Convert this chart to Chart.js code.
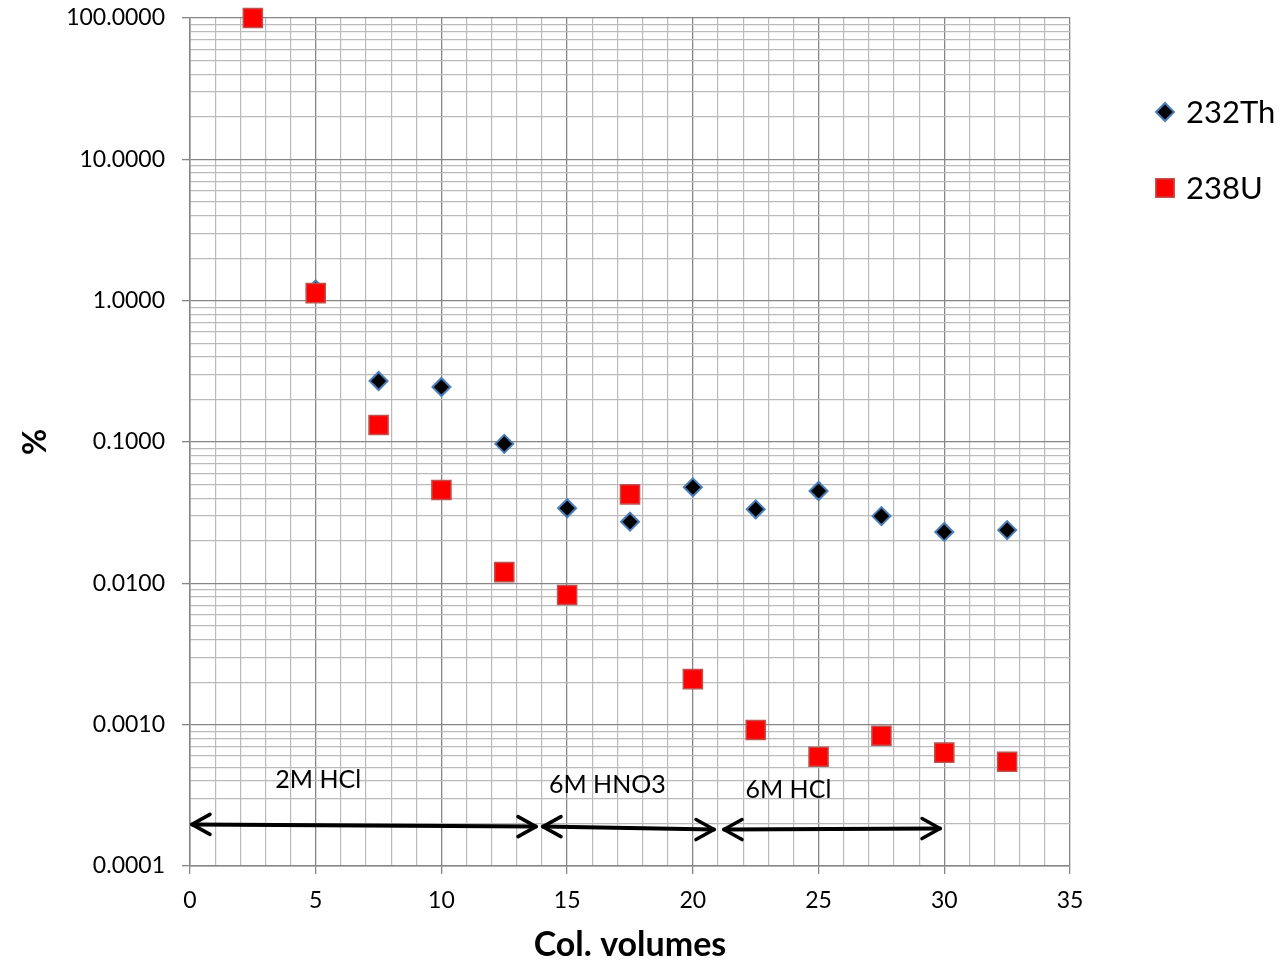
<!DOCTYPE html>
<html>
<head>
<meta charset="utf-8">
<script src="https://cdn.jsdelivr.net/npm/chart.js@4.4.1/dist/chart.umd.min.js"></script>
<style>
    html, body { margin: 0; padding: 0; background: #ffffff; }
    #wrap { width: 1288px; height: 965px; }
</style>
</head>
<body>
<div id="wrap"><canvas id="chart" width="1288" height="965"></canvas></div>
<script>
// Elution profile data
const colVolumes = [2.5, 5, 7.5, 10, 12.5, 15, 17.5, 20, 22.5, 25, 27.5, 30, 32.5];
const th232 = [null, 1.2, 0.27, 0.245, 0.097, 0.034, 0.0273, 0.0478, 0.0334, 0.045, 0.0299, 0.0231, 0.0238];
const u238 = [100, 1.13, 0.132, 0.0457, 0.0120, 0.00826, 0.0426, 0.0021, 0.000916, 0.000593, 0.000835, 0.000634, 0.000547];

// Eluent regions (arrows under the points)
const regionLabels = ['2M HCl', '6M HNO3', '6M HCl'];
const regionStart = [0, 13.96, 21.16];
const regionEnd = [13.84, 20.92, 29.91];
const regionArrowY = [[0.000197, 0.000190], [0.000190, 0.000181], [0.000181, 0.000184]];
const regionLabelX = [5.1, 16.6, 23.8];
const regionLabelY = [0.000406, 0.000374, 0.000345];

const yDecades = [-4, -3, -2, -1, 0, 1, 2];
const FONT = 'Lato, "Open Sans", sans-serif';

const isDecade = v => Math.abs(Math.log10(v) - Math.round(Math.log10(v))) < 1e-9;

const regionPlugin = {
    id: 'regions',
    afterDatasetsDraw(chart) {
        const ctx = chart.ctx;
        const xs = chart.scales.x, ys = chart.scales.y;
        ctx.save();
        ctx.strokeStyle = '#000000';
        ctx.lineCap = 'round';
        ctx.lineJoin = 'round';
        for (let i = 0; i < regionLabels.length; i++) {
            const x1 = xs.getPixelForValue(regionStart[i]);
            const x2 = xs.getPixelForValue(regionEnd[i]);
            const y1 = ys.getPixelForValue(regionArrowY[i][0]);
            const y2 = ys.getPixelForValue(regionArrowY[i][1]);
            ctx.lineWidth = 4;
            ctx.beginPath();
            ctx.moveTo(x1 + 2, y1);
            ctx.lineTo(x2 - 2, y2);
            ctx.stroke();
            // open arrow heads
            ctx.lineWidth = 3.5;
            ctx.beginPath();
            ctx.moveTo(x1 + 20, y1 - 10);
            ctx.lineTo(x1 + 2, y1);
            ctx.lineTo(x1 + 20, y1 + 10);
            ctx.moveTo(x2 - 20, y2 - 10);
            ctx.lineTo(x2 - 2, y2);
            ctx.lineTo(x2 - 20, y2 + 10);
            ctx.stroke();

            ctx.fillStyle = '#000000';
            ctx.font = '25px ' + FONT;
            ctx.textAlign = 'center';
            ctx.textBaseline = 'middle';
            ctx.fillText(regionLabels[i], xs.getPixelForValue(regionLabelX[i]), ys.getPixelForValue(regionLabelY[i]));
        }
        ctx.restore();
    }
};

const legendPlugin = {
    id: 'sideLegend',
    afterDraw(chart) {
        const ctx = chart.ctx;
        const rows = [112, 188];
        ctx.save();
        chart.data.datasets.forEach(ds => {
            const y = rows[ds.legendRow];
            ctx.fillStyle = ds.backgroundColor;
            ctx.strokeStyle = ds.borderColor;
            ctx.lineWidth = ds.borderWidth;
            Chart.helpers.drawPoint(ctx, {
                pointStyle: ds.pointStyle,
                radius: ds.legendRadius,
                borderWidth: ds.borderWidth,
                rotation: 0
            }, 1165, y);
            ctx.fillStyle = '#000000';
            ctx.font = '31px ' + FONT;
            ctx.textAlign = 'left';
            ctx.textBaseline = 'middle';
            ctx.fillText(ds.label, 1186, y + 1);
        });
        ctx.restore();
    }
};

new Chart(document.getElementById('chart'), {
    type: 'scatter',
    data: {
        datasets: [
            {
                label: '238U',
                data: colVolumes.map((v, i) => ({ x: v, y: u238[i] })),
                pointStyle: 'rect',
                backgroundColor: '#ff0000',
                borderColor: '#c0504d',
                borderWidth: 1.5,
                pointRadius: 13.5,
                legendRadius: 13,
                legendRow: 1,
                order: 0,
                clip: false
            },
            {
                label: '232Th',
                data: colVolumes.map((v, i) => ({ x: v, y: th232[i] })),
                pointStyle: 'rectRot',
                backgroundColor: '#000000',
                borderColor: '#4a7ebb',
                borderWidth: 2,
                pointRadius: 9,
                legendRadius: 9,
                legendRow: 0,
                order: 1,
                clip: false
            }
        ]
    },
    options: {
        responsive: false,
        animation: false,
        layout: { padding: { top: 18, right: 218, left: 0, bottom: 0 } },
        plugins: {
            legend: { display: false },
            tooltip: { enabled: false }
        },
        scales: {
            x: {
                type: 'linear',
                min: 0,
                max: 35,
                afterFit: s => { s.height = 99; s.paddingLeft = 0; s.paddingRight = 0; },
                afterBuildTicks: s => {
                    s.ticks = [];
                    for (let v = 0; v <= 35; v++) s.ticks.push({ value: v });
                },
                ticks: {
                    autoSkip: false,
                    maxRotation: 0,
                    padding: 13,
                    color: '#000000',
                    font: { family: FONT, size: 23 },
                    callback: v => (v % 5 === 0 ? String(v) : '')
                },
                grid: {
                    color: c => (c.tick && c.tick.value % 5 === 0 ? '#868686' : '#bababa'),
                    lineWidth: c => (c.tick && c.tick.value % 5 === 0 ? 1.3 : 1.2),
                    tickColor: c => (c.tick && c.tick.value % 5 === 0 ? '#868686' : 'rgba(0,0,0,0)'),
                    tickLength: 8
                },
                border: { color: '#868686', width: 1.5 },
                title: {
                    display: true,
                    text: 'Col. volumes',
                    color: '#000000',
                    font: { family: FONT, size: 34, weight: 'bold' },
                    padding: { top: 0, bottom: 0 }
                }
            },
            y: {
                type: 'logarithmic',
                min: 0.0001,
                max: 100,
                afterFit: s => { s.width = 190; s.paddingTop = 0; s.paddingBottom = 0; },
                afterBuildTicks: s => {
                    s.ticks = [];
                    yDecades.forEach(e => {
                        for (let m = 1; m <= 9; m++) {
                            const v = m * Math.pow(10, e);
                            if (v <= 100.0000001) s.ticks.push({ value: v });
                        }
                    });
                },
                ticks: {
                    autoSkip: false,
                    padding: 17,
                    color: '#000000',
                    font: { family: FONT, size: 23 },
                    callback: v => (isDecade(v) ? v.toFixed(4) : '')
                },
                grid: {
                    color: c => (c.tick && isDecade(c.tick.value) ? '#868686' : '#bababa'),
                    lineWidth: c => (c.tick && isDecade(c.tick.value) ? 1.3 : 1.2),
                    tickColor: c => (c.tick && isDecade(c.tick.value) ? '#868686' : 'rgba(0,0,0,0)'),
                    tickLength: 8
                },
                border: { color: '#868686', width: 1.5 },
                title: {
                    display: true,
                    text: '%',
                    color: '#000000',
                    font: { family: FONT, size: 32, weight: 'bold' },
                    padding: { top: 16, bottom: 0 }
                }
            }
        }
    },
    plugins: [regionPlugin, legendPlugin]
});
</script>
</body>
</html>
